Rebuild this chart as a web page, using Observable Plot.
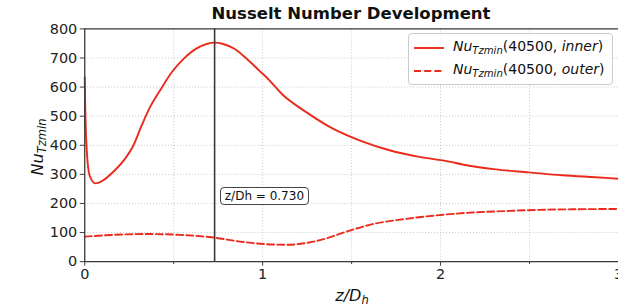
<!DOCTYPE html>
<html><head><meta charset="utf-8">
<script src="https://cdn.jsdelivr.net/npm/d3@7"></script>
<script src="https://cdn.jsdelivr.net/npm/@observablehq/plot@0.6"></script>
<style>
html,body{margin:0;padding:0;background:#fff;overflow:hidden;width:618px;height:307px}
#wrap{position:relative;width:618px;height:307px;font-family:"DejaVu Sans",sans-serif;color:#111;overflow:hidden}
#wrap > svg{position:absolute;left:0;top:0;overflow:visible}
#wrap > svg g[aria-label$="tick label"] text, #wrap > svg g[aria-label$="tick label"]{font-size:14.5px !important;fill:#222}
.title{position:absolute;left:0;top:4px;width:702px;text-align:center;font-weight:bold;font-size:16.5px;white-space:nowrap}
.ylab{position:absolute;left:37px;top:147px;transform:translate(-50%,-50%) rotate(-90deg);font-size:16px;font-style:italic;white-space:nowrap}
.xlab{position:absolute;left:352px;top:286px;transform:translateX(-50%);font-size:16px;font-style:italic;white-space:nowrap}
sub{font-size:0.72em;vertical-align:-0.3em;line-height:0}
.legend{position:absolute;left:408px;top:33px;width:203px;height:50px;border:1px solid #ccc;border-radius:4px;background:rgba(255,255,255,0.85);font-size:14px}
.legend .row{position:absolute;left:4px;height:20px;white-space:nowrap}
.legend svg{vertical-align:middle}
.legend .txt{position:absolute;left:40px;top:0;}
.annot{position:absolute;font-size:12px;border:1px solid #444;border-radius:4px;background:#fff;padding:1px 4px;white-space:nowrap}
</style></head><body><div id="wrap"></div>
<script>
const innerX = [0, 0.003, 0.012, 0.027, 0.06, 0.105, 0.161, 0.227, 0.274, 0.32, 0.367, 0.423, 0.489, 0.554, 0.629, 0.685, 0.731, 0.778, 0.844, 0.909, 0.984, 1.021, 1.114, 1.245, 1.395, 1.544, 1.713, 1.881, 2.049, 2.124, 2.31, 2.497, 2.684, 2.871, 3.0];
const innerY = [633, 526, 377, 297, 269, 280, 309, 354, 400, 468, 531, 588, 651, 696, 733, 748, 753, 748, 731, 698, 655, 634, 573, 514, 457, 417, 383, 360, 344, 334, 317, 307, 297, 290, 285];
const outerX = [0, 0.161, 0.349, 0.535, 0.722, 0.872, 1.021, 1.133, 1.245, 1.358, 1.45, 1.619, 1.806, 1.993, 2.179, 2.367, 2.553, 2.74, 3.0];
const outerY = [86, 92, 95, 92, 83, 69, 60, 58, 64, 80, 99, 129, 147, 160, 169, 174, 178, 180, 181];
const markerX = 0.730;
const xMajor = [0, 1, 2, 3];
const xMinor = [0.5, 1.5, 2.5];
const xGrid = [0, 0.5, 1, 1.5, 2, 2.5, 3];
const yTicks = [0, 100, 200, 300, 400, 500, 600, 700, 800];
const titleText = "Nusselt Number Development";
const seriesNames = ["inner", "outer"];
const reynolds = "40500";

const inner = innerX.map((x, i) => ({x, y: innerY[i]}));
const outer = outerX.map((x, i) => ({x, y: outerY[i]}));
const red = "#eb2a1c";
const spine = "#3a3a3a";

const plot = Plot.plot({
  width: 620, height: 307,
  marginLeft: 84.5, marginRight: 0, marginTop: 28.5, marginBottom: 45,
  style: {fontFamily: "DejaVu Sans, sans-serif", fontSize: "14.5px", color: "#222", background: "transparent"},
  x: {domain: [0, 3]},
  y: {domain: [0, 800]},
  marks: [
    Plot.gridX(xGrid, {stroke: "#bbb", strokeOpacity: 0.8, strokeDasharray: "1,2"}),
    Plot.gridY(yTicks, {stroke: "#bbb", strokeOpacity: 0.8, strokeDasharray: "1,2"}),
    Plot.line(outer, {x: "x", y: "y", stroke: red, strokeWidth: 1.9, strokeDasharray: "7,3.2", curve: "monotone-x"}),
    Plot.line(inner, {x: "x", y: "y", stroke: red, strokeWidth: 1.9, curve: "monotone-x"}),
    Plot.ruleX([markerX], {stroke: spine, strokeWidth: 1.6}),
    Plot.ruleX([0], {stroke: spine, strokeWidth: 1.3}),
    Plot.ruleY([0], {stroke: spine, strokeWidth: 1.3}),
    Plot.ruleY([800], {stroke: spine, strokeWidth: 1.3}),
    Plot.axisX(xMajor, {tickSize: 4.5, tickPadding: 3, stroke: spine, label: null, fontSize: 14.5, tickFormat: d => String(d)}),
    Plot.axisX(xMinor, {tickSize: 3, tickFormat: () => "", stroke: spine, label: null}),
    Plot.axisY(yTicks, {tickSize: 4.5, tickPadding: 3, stroke: spine, label: null, fontSize: 14.5, tickFormat: d => String(d)})
  ]
});

const wrap = document.getElementById("wrap");
wrap.appendChild(plot);

const t = document.createElement("div");
t.className = "title"; t.textContent = titleText;
wrap.appendChild(t);

const nuLabel = `<i>Nu</i><sub><i>Tzmin</i></sub>`;
const yl = document.createElement("div");
yl.className = "ylab"; yl.innerHTML = nuLabel;
wrap.appendChild(yl);

const xl = document.createElement("div");
xl.className = "xlab"; xl.innerHTML = `<i>z</i>/<i>D</i><sub><i>h</i></sub>`;
wrap.appendChild(xl);

const lg = document.createElement("div");
lg.className = "legend";
seriesNames.forEach((name, i) => {
  const row = document.createElement("div");
  row.className = "row";
  row.style.top = (4 + i * 23) + "px";
  const dash = i === 1 ? 'stroke-dasharray="7,3.2"' : "";
  row.innerHTML = `<svg width="32" height="20"><line x1="1" x2="31" y1="10" y2="10" stroke="${red}" stroke-width="1.9" ${dash}/></svg>` +
    `<span class="txt">${nuLabel}(${reynolds}, <i>${name}</i>)</span>`;
  lg.appendChild(row);
});
wrap.appendChild(lg);

const xs = plot.scale("x"), ys = plot.scale("y");
const an = document.createElement("div");
an.className = "annot";
an.textContent = "z/Dh = " + markerX.toFixed(3);
an.style.left = (xs.apply(markerX) + 5) + "px";
an.style.top = (ys.apply(226) - 9) + "px";
wrap.appendChild(an);
</script>
</body></html>
